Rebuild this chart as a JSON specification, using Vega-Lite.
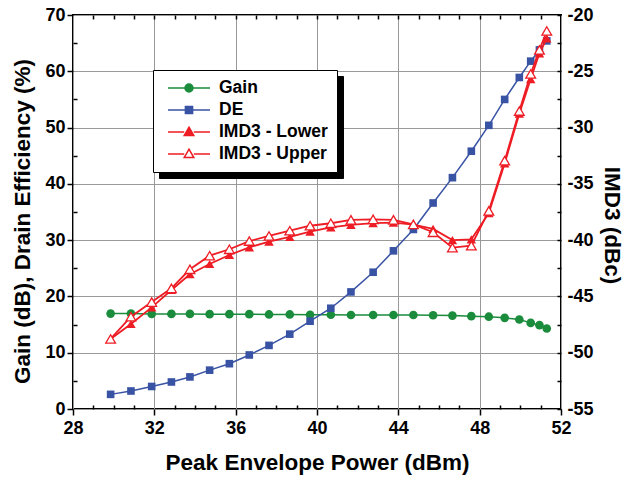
{
  "$schema": "https://vega.github.io/schema/vega-lite/v6.json",
  "autosize": {"type": "none"},
  "padding": {"left": 73, "top": 15, "right": 63, "bottom": 68},
  "width": 488,
  "height": 394,
  "background": "white",
  "data": {"values": [
    {"s":"Gain","x":29.85,"y":16.95},{"s":"Gain","x":30.85,"y":16.95},{"s":"Gain","x":31.87,"y":16.9},{"s":"Gain","x":32.84,"y":16.9},{"s":"Gain","x":33.75,"y":16.9},
    {"s":"Gain","x":34.72,"y":16.85},{"s":"Gain","x":35.69,"y":16.85},{"s":"Gain","x":36.67,"y":16.85},{"s":"Gain","x":37.64,"y":16.8},{"s":"Gain","x":38.66,"y":16.8},
    {"s":"Gain","x":39.66,"y":16.75},{"s":"Gain","x":40.68,"y":16.75},{"s":"Gain","x":41.67,"y":16.7},{"s":"Gain","x":42.76,"y":16.7},{"s":"Gain","x":43.76,"y":16.7},
    {"s":"Gain","x":44.74,"y":16.7},{"s":"Gain","x":45.71,"y":16.65},{"s":"Gain","x":46.66,"y":16.6},{"s":"Gain","x":47.59,"y":16.5},{"s":"Gain","x":48.45,"y":16.4},
    {"s":"Gain","x":49.23,"y":16.2},{"s":"Gain","x":49.95,"y":15.9},{"s":"Gain","x":50.51,"y":15.3},{"s":"Gain","x":50.94,"y":14.9},{"s":"Gain","x":51.3,"y":14.3},
    {"s":"DE","x":29.85,"y":2.6},{"s":"DE","x":30.85,"y":3.2},{"s":"DE","x":31.87,"y":4.0},{"s":"DE","x":32.84,"y":4.8},{"s":"DE","x":33.75,"y":5.7},
    {"s":"DE","x":34.72,"y":6.9},{"s":"DE","x":35.69,"y":8.05},{"s":"DE","x":36.67,"y":9.6},{"s":"DE","x":37.64,"y":11.3},{"s":"DE","x":38.66,"y":13.3},
    {"s":"DE","x":39.66,"y":15.6},{"s":"DE","x":40.68,"y":17.9},{"s":"DE","x":41.67,"y":20.8},{"s":"DE","x":42.76,"y":24.3},{"s":"DE","x":43.76,"y":28.1},
    {"s":"DE","x":44.74,"y":31.9},{"s":"DE","x":45.71,"y":36.6},{"s":"DE","x":46.66,"y":41.1},{"s":"DE","x":47.59,"y":45.8},{"s":"DE","x":48.45,"y":50.4},
    {"s":"DE","x":49.23,"y":55.0},{"s":"DE","x":49.95,"y":58.9},{"s":"DE","x":50.51,"y":61.8},{"s":"DE","x":50.94,"y":63.8},{"s":"DE","x":51.3,"y":65.4},
    {"s":"IMD3 - Lower","x":29.85,"y":-48.78},{"s":"IMD3 - Lower","x":30.85,"y":-47.45},{"s":"IMD3 - Lower","x":31.87,"y":-45.97},{"s":"IMD3 - Lower","x":32.84,"y":-44.43},{"s":"IMD3 - Lower","x":33.75,"y":-43.03},
    {"s":"IMD3 - Lower","x":34.72,"y":-42.12},{"s":"IMD3 - Lower","x":35.69,"y":-41.32},{"s":"IMD3 - Lower","x":36.67,"y":-40.64},{"s":"IMD3 - Lower","x":37.64,"y":-40.14},{"s":"IMD3 - Lower","x":38.66,"y":-39.72},
    {"s":"IMD3 - Lower","x":39.66,"y":-39.25},{"s":"IMD3 - Lower","x":40.68,"y":-38.86},{"s":"IMD3 - Lower","x":41.67,"y":-38.65},{"s":"IMD3 - Lower","x":42.76,"y":-38.48},{"s":"IMD3 - Lower","x":43.76,"y":-38.45},
    {"s":"IMD3 - Lower","x":44.74,"y":-38.63},{"s":"IMD3 - Lower","x":45.71,"y":-39.0},{"s":"IMD3 - Lower","x":46.66,"y":-39.99},{"s":"IMD3 - Lower","x":47.59,"y":-39.93},{"s":"IMD3 - Lower","x":48.45,"y":-37.6},
    {"s":"IMD3 - Lower","x":49.23,"y":-33.18},{"s":"IMD3 - Lower","x":49.95,"y":-28.77},{"s":"IMD3 - Lower","x":50.51,"y":-25.69},{"s":"IMD3 - Lower","x":50.94,"y":-23.4},{"s":"IMD3 - Lower","x":51.3,"y":-22.07},
    {"s":"IMD3 - Upper","x":29.85,"y":-48.78},{"s":"IMD3 - Upper","x":30.85,"y":-46.8},{"s":"IMD3 - Upper","x":31.87,"y":-45.5},{"s":"IMD3 - Upper","x":32.84,"y":-44.28},{"s":"IMD3 - Upper","x":33.75,"y":-42.59},
    {"s":"IMD3 - Upper","x":34.72,"y":-41.38},{"s":"IMD3 - Upper","x":35.69,"y":-40.81},{"s":"IMD3 - Upper","x":36.67,"y":-40.08},{"s":"IMD3 - Upper","x":37.64,"y":-39.63},{"s":"IMD3 - Upper","x":38.66,"y":-39.16},
    {"s":"IMD3 - Upper","x":39.66,"y":-38.72},{"s":"IMD3 - Upper","x":40.68,"y":-38.5},{"s":"IMD3 - Upper","x":41.67,"y":-38.2},{"s":"IMD3 - Upper","x":42.76,"y":-38.15},{"s":"IMD3 - Upper","x":43.76,"y":-38.2},
    {"s":"IMD3 - Upper","x":44.74,"y":-38.6},{"s":"IMD3 - Upper","x":45.71,"y":-39.3},{"s":"IMD3 - Upper","x":46.66,"y":-40.67},{"s":"IMD3 - Upper","x":47.59,"y":-40.49},{"s":"IMD3 - Upper","x":48.45,"y":-37.4},
    {"s":"IMD3 - Upper","x":49.23,"y":-32.94},{"s":"IMD3 - Upper","x":49.95,"y":-28.53},{"s":"IMD3 - Upper","x":50.51,"y":-25.24},{"s":"IMD3 - Upper","x":50.94,"y":-23.1},{"s":"IMD3 - Upper","x":51.3,"y":-21.42}
  ]},
  "layer": [
    {
      "transform": [{"filter": {"field": "s", "oneOf": ["Gain", "DE"]}}],
      "layer": [
        {
          "mark": {"type": "line", "strokeWidth": 1.5},
          "encoding": {
            "x": {"field": "x", "type": "quantitative", "scale": {"domain": [28, 52], "nice": false, "zero": false},
              "axis": {"orient": "bottom", "values": [28, 32, 36, 40, 44, 48, 52], "tickSize": 6, "labelPadding": 4, "grid": true, "title": "Peak Envelope Power (dBm)", "titlePadding": 14}},
            "y": {"field": "y", "type": "quantitative", "scale": {"domain": [0, 70], "nice": false},
              "axis": {"orient": "left", "values": [0, 10, 20, 30, 40, 50, 60, 70], "tickSize": 6, "labelPadding": 2, "grid": true, "title": "Gain (dB), Drain Efficiency (%)", "titlePadding": 10, "titleY": 206}},
            "stroke": {"field": "s", "type": "nominal",
              "scale": {"domain": ["Gain", "DE", "IMD3 - Lower", "IMD3 - Upper"], "range": ["#1a8c3c", "#3953a4", "#ee1c24", "#ee1c24"]},
              "legend": {"orient": "none", "legendX": 80, "legendY": 55, "title": null, "direction": "vertical", "padding": 9,
                "fillColor": "white", "strokeColor": "#000", "symbolSize": 256, "symbolStrokeWidth": 1.5, "labelOffset": 39, "rowPadding": 4,
                "labelFont": "Liberation Sans", "labelFontWeight": "bold", "labelFontSize": 17.5, "labelColor": "#000", "zindex": 2,
                "encode": {"symbols": {"update": {
                  "shape": {"signal": "datum.value === 'Gain' ? 'M-0.375,0H1.75M2.75,0H4.875M2.75,0A0.5,0.5 0 1 1 1.75,0A0.5,0.5 0 1 1 2.75,0Z' : datum.value === 'DE' ? 'M-0.375,0H1.8M2.7,0H4.875M1.8,-0.45H2.7V0.45H1.8Z' : 'M-0.375,0H1.65M2.85,0H4.875M2.25,-0.6L2.85,0.45H1.65Z'"},
                  "fill": {"signal": "datum.value === 'Gain' ? '#1a8c3c' : datum.value === 'DE' ? '#3953a4' : datum.value === 'IMD3 - Lower' ? '#ee1c24' : '#ffffff'"},
                  "stroke": {"signal": "datum.value === 'Gain' ? '#1a8c3c' : datum.value === 'DE' ? '#3953a4' : '#ee1c24'"},
                  "size": {"value": 256},
                  "strokeWidth": {"value": 1.5},
                  "opacity": {"value": 1}
                }}}}}
          }
        },
        {
          "transform": [{"filter": "datum.s === 'Gain'"}],
          "mark": {"type": "point", "shape": "circle", "filled": true, "size": 75, "opacity": 1},
          "encoding": {
            "x": {"field": "x", "type": "quantitative",
              "axis": {"orient": "bottom", "values": [29, 30, 31, 33, 34, 35, 37, 38, 39, 41, 42, 43, 45, 46, 47, 49, 50, 51], "tickSize": -4, "labels": false, "grid": false, "title": null}},
            "y": {"field": "y", "type": "quantitative",
              "axis": {"orient": "left", "values": [5, 15, 25, 35, 45, 55, 65], "tickSize": -4, "labels": false, "grid": false, "title": null}},
            "color": {"field": "s", "type": "nominal",
              "scale": {"domain": ["DE", "Gain", "IMD3 - Lower", "IMD3 - Upper"], "range": ["#3953a4", "#1a8c3c", "#ee1c24", "#ee1c24"]},
              "legend": {"orient": "none", "legendX": 86, "legendY": 61, "title": null, "direction": "vertical", "padding": 9,
                "fillColor": "#000", "strokeColor": "#000", "symbolType": "circle", "symbolSize": 256, "symbolStrokeWidth": 1.5, "symbolOpacity": 0, "labelOffset": 148, "rowPadding": 4,
                "labelFont": "Liberation Sans", "labelFontWeight": "bold", "labelFontSize": 17.5, "labelColor": "#000", "labelOpacity": 0, "labelExpr": "''", "zindex": 1,
                "encode": {"symbols": {"update": {"opacity": {"value": 0}, "fillOpacity": {"value": 0}, "strokeOpacity": {"value": 0}, "size": {"value": 256}, "strokeWidth": {"value": 1.5}}}}}}
          }
        },
        {
          "transform": [{"filter": "datum.s === 'DE'"}],
          "mark": {"type": "point", "shape": "square", "filled": true, "size": 58, "opacity": 1},
          "encoding": {
            "x": {"field": "x", "type": "quantitative",
              "axis": {"orient": "top", "values": [29, 30, 31, 32, 33, 34, 35, 36, 37, 38, 39, 40, 41, 42, 43, 44, 45, 46, 47, 48, 49, 50, 51], "tickSize": -4, "labels": false, "grid": false, "title": null}},
            "y": {"field": "y", "type": "quantitative", "axis": null},
            "color": {"field": "s", "type": "nominal"}
          }
        }
      ],
      "resolve": {"axis": {"x": "independent", "y": "independent"}}
    },
    {
      "transform": [{"filter": {"field": "s", "oneOf": ["IMD3 - Lower", "IMD3 - Upper"]}}],
      "layer": [
        {
          "mark": {"type": "line", "strokeWidth": 1.8},
          "encoding": {
            "x": {"field": "x", "type": "quantitative", "axis": null},
            "y": {"field": "y", "type": "quantitative", "scale": {"domain": [-55, -20], "nice": false, "zero": false},
              "axis": {"orient": "right", "values": [-55, -50, -45, -40, -35, -30, -25, -20], "tickSize": 0, "labelPadding": 6, "grid": false, "title": "IMD3 (dBc)", "titlePadding": 6, "titleY": 210, "labelExpr": "'' + datum.value"}},
            "stroke": {"field": "s", "type": "nominal"}
          }
        },
        {
          "transform": [{"filter": "datum.s === 'IMD3 - Lower'"}],
          "mark": {"type": "point", "shape": "triangle-up", "filled": true, "size": 90, "opacity": 1},
          "encoding": {
            "x": {"field": "x", "type": "quantitative", "axis": null},
            "y": {"field": "y", "type": "quantitative",
              "axis": {"orient": "right", "values": [-55, -52.5, -50, -47.5, -45, -42.5, -40, -37.5, -35, -32.5, -30, -27.5, -25, -22.5, -20], "tickSize": -4, "labels": false, "grid": false, "title": null}},
            "color": {"field": "s", "type": "nominal"}
          }
        },
        {
          "transform": [{"filter": "datum.s === 'IMD3 - Upper'"}],
          "mark": {"type": "point", "shape": "triangle-up", "filled": false, "fill": "white", "fillOpacity": 1, "strokeWidth": 1.3, "size": 95, "opacity": 1},
          "encoding": {
            "x": {"field": "x", "type": "quantitative", "axis": null},
            "y": {"field": "y", "type": "quantitative", "axis": null},
            "color": {"field": "s", "type": "nominal"}
          }
        }
      ],
      "resolve": {"axis": {"y": "independent"}}
    }
  ],
  "resolve": {"scale": {"y": "independent"}, "axis": {"x": "independent", "y": "independent"}},
  "config": {
    "view": {"stroke": "#000", "strokeWidth": 2},
    "axis": {"labelFont": "Liberation Sans", "labelFontWeight": "bold", "labelFontSize": 18, "labelColor": "#000", "labelFlush": false,
      "titleFont": "Liberation Sans", "titleFontWeight": "bold", "titleFontSize": 22.5, "titleColor": "#000",
      "tickColor": "#000", "tickWidth": 1.5, "domain": false, "gridColor": "#999999", "gridWidth": 1}
  }
}
